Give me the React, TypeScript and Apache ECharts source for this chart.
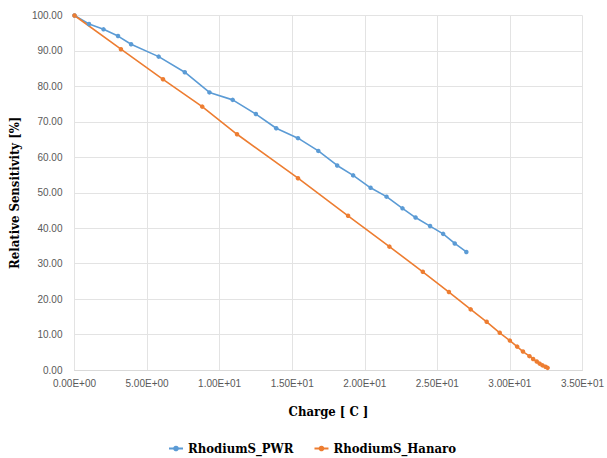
import React, { useEffect, useRef } from "react";
import * as echarts from "echarts";

const pwrCharge = [0, 1.0, 2.0, 3.0, 3.9, 5.8, 7.6, 9.3, 10.9, 12.5, 13.9, 15.4, 16.8, 18.1, 19.2, 20.4, 21.5, 22.6, 23.5, 24.5, 25.4, 26.2, 27.0];
const pwrSens = [100, 97.6, 96.1, 94.2, 91.9, 88.4, 84.0, 78.3, 76.2, 72.2, 68.2, 65.4, 61.8, 57.7, 54.9, 51.4, 48.9, 45.6, 43.0, 40.6, 38.4, 35.7, 33.3];

const hanaroCharge = [0, 3.2, 6.1, 8.8, 11.2, 15.4, 18.85, 21.7, 24.0, 25.8, 27.3, 28.4, 29.3, 30.0, 30.5, 30.9, 31.35, 31.6, 31.85, 32.05, 32.25, 32.45, 32.6];
const hanaroSens = [100, 90.5, 82.0, 74.3, 66.5, 54.1, 43.5, 34.8, 27.7, 22.0, 17.1, 13.6, 10.5, 8.3, 6.6, 5.2, 3.9, 3.1, 2.4, 1.8, 1.3, 0.9, 0.6];

const seriesNames = ["RhodiumS_PWR", "RhodiumS_Hanaro"];
const xTitle = "Charge [ C ]";
const yTitle = "Relative Sensitivity [%]";

function sci(v: number): string {
  const s = v.toExponential(2);
  const [m, e] = s.split("e");
  const sign = e[0] === "-" ? "-" : "+";
  const digits = e.replace(/[+-]/, "").padStart(2, "0");
  return `${m}E${sign}${digits}`;
}

export default function App() {
  const ref = useRef<HTMLDivElement>(null);
  useEffect(() => {
    document.body.style.margin = "0";
    if (!ref.current) return;
    const chart = echarts.init(ref.current, undefined, { renderer: "svg" });
    const labelStyle = { color: "#595959", fontFamily: "Liberation Sans", fontSize: 10 };
    const titleStyle = {
      color: "#000",
      fontFamily: "DejaVu Serif Condensed",
      fontWeight: "bold" as const,
      fontSize: 13,
    };
    chart.setOption({
      animation: false,
      backgroundColor: "#fff",
      grid: { left: 69, right: 20, top: 15.5, bottom: 88, containLabel: false },
      legend: {
        data: seriesNames,
        left: 163,
        top: 437,
        itemWidth: 14,
        itemHeight: 7,
        itemGap: 20,
        textStyle: titleStyle,
      },
      xAxis: {
        type: "value",
        min: 0,
        max: 35,
        interval: 5,
        name: xTitle,
        nameLocation: "middle",
        nameGap: 35,
        nameTextStyle: titleStyle,
        axisLine: { show: true, lineStyle: { color: "#D9D9D9" } },
        axisTick: { show: false },
        axisLabel: { ...labelStyle, margin: 8, formatter: (v: number) => sci(v) },
        splitLine: { show: true, lineStyle: { color: "#E3E3E3" } },
      },
      yAxis: {
        type: "value",
        min: 0,
        max: 100,
        interval: 10,
        name: yTitle,
        nameLocation: "middle",
        nameGap: 46,
        nameTextStyle: titleStyle,
        axisLine: { show: false },
        axisTick: { show: false },
        axisLabel: { ...labelStyle, margin: 12, formatter: (v: number) => v.toFixed(2) },
        splitLine: { show: true, lineStyle: { color: "#E3E3E3" } },
      },
      series: [
        {
          name: seriesNames[0],
          type: "line",
          data: pwrCharge.map((c, i) => [c, pwrSens[i]]),
          symbol: "circle",
          symbolSize: 4.5,
          lineStyle: { color: "#5B9BD5", width: 1.6 },
          itemStyle: { color: "#5B9BD5" },
        },
        {
          name: seriesNames[1],
          type: "line",
          data: hanaroCharge.map((c, i) => [c, hanaroSens[i]]),
          symbol: "circle",
          symbolSize: 4.5,
          lineStyle: { color: "#ED7D31", width: 1.6 },
          itemStyle: { color: "#ED7D31" },
        },
      ],
    });
    return () => chart.dispose();
  }, []);
  return <div ref={ref} style={{ width: 607, height: 458 }} />;
}
